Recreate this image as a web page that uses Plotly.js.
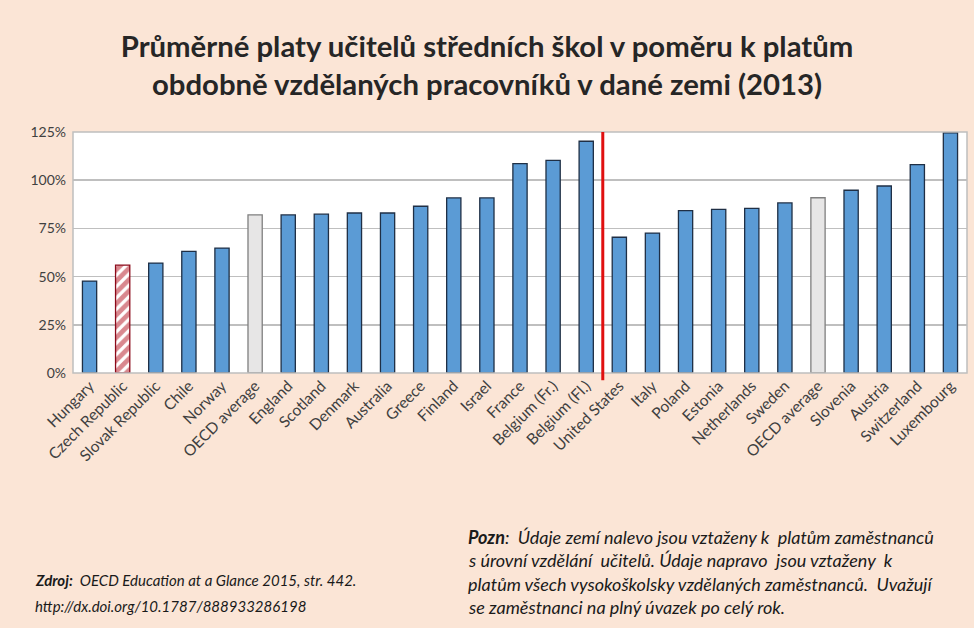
<!DOCTYPE html>
<html><head><meta charset="utf-8">
<script src="https://cdn.plot.ly/plotly-3.0.1.min.js"></script>
<style>html,body{margin:0;padding:0;background:#fbe5d6;}</style>
</head><body>
<div id="chart" style="width:974px;height:628px;"></div>
<script>
const countries = ["Hungary","Czech Republic","Slovak Republic","Chile","Norway","OECD average","England","Scotland","Denmark","Australia","Greece","Finland","Israel","France","Belgium (Fr.)","Belgium (Fl.)","United States","Italy","Poland","Estonia","Netherlands","Sweden","OECD average","Slovenia","Austria","Switzerland","Luxembourg"];
const values = [47.7,55.9,57.0,63.1,64.8,82.0,82.0,82.4,83.0,83.0,86.5,90.8,90.8,108.6,110.3,120.2,70.4,72.6,84.2,84.9,85.4,88.2,90.9,94.8,97.0,108.1,124.6];
const yTicks = [0,25,50,75,100,125];
const yTickLabels = ["0%","25%","50%","75%","100%","125%"];
const splitAfter = "Belgium (Fl.)";
const highlight = "Czech Republic";

const idx = countries.map((c,i)=>i);
const fillColors = countries.map(c => c==="OECD average" ? "#e7e6e6" : "#5b9bd5");
const lineColors = countries.map(c => c==="OECD average" ? "#7f7f7f" : "#1f2f45");
const mainY = countries.map((c,i) => c===highlight ? null : values[i]);
const hlY = countries.map((c,i) => c===highlight ? values[i] : null);
const splitIdx = countries.indexOf(splitAfter) + 0.5;

const traceMain = {
  type: "bar", x: idx, y: mainY,
  marker: {color: fillColors, line: {color: lineColors, width: 1.3}}
};
const traceHl = {
  type: "bar", x: idx, y: hlY,
  marker: {
    color: "#ffffff",
    line: {color: "#8b0a1a", width: 1.3},
    pattern: {shape: "/", fgcolor: "#b3121f", bgcolor: "#ffffff", size: 8, solidity: 0.6, fillmode: "overlay"}
  }
};

const fontMain = "Lato, 'Open Sans', sans-serif";
const noteFont = {family: fontMain, size: 18, color: "#1a1a1a"};
const noteFontL = {family: fontMain, size: 15, color: "#1a1a1a"};

function noteLine(x, y, text, font) {
  return {xref: "paper", yref: "paper", x: x, y: y, xanchor: "left", yanchor: "middle",
          align: "left", showarrow: false, text: text, font: font};
}
// paper coordinates from pixel positions of the plot frame (top 132, bottom 373, left 73, right 967)
function py(pix) { return (373 - pix) / (373 - 132); }
function px(pix) { return (pix - 73) / (967 - 73); }

const layout = {
  width: 974, height: 628,
  paper_bgcolor: "#fbe5d6", plot_bgcolor: "#ffffff",
  margin: {l: 73, r: 7, t: 132, b: 255},
  bargap: 0.57,
  barmode: "overlay",
  showlegend: false,
  title: {
    text: "<b>Průměrné platy učitelů středních škol v poměru k platům<br>obdobně vzdělaných pracovníků v dané zemi (2013)</b>",
    font: {family: fontMain, size: 29.3, color: "#262626"},
    x: 0.5, xanchor: "center", y: 0.91, yanchor: "top"
  },
  xaxis: {
    tickvals: idx, ticktext: countries, tickangle: -45,
    range: [-0.5, countries.length - 0.5],
    tickfont: {family: fontMain, size: 15.5, color: "#404040"},
    showgrid: false, zeroline: false, showline: false, ticks: "", fixedrange: true
  },
  yaxis: {
    range: [0, 125], tickvals: yTicks, ticktext: yTickLabels,
    tickfont: {family: fontMain, size: 14, color: "#404040"},
    ticklabelstandoff: 6,
    showgrid: true, gridcolor: "#bfbfbf", gridwidth: 1.5,
    zeroline: false, showline: false, ticks: "", fixedrange: true
  },
  shapes: [
    {type: "rect", xref: "paper", yref: "paper", x0: 0, x1: 1, y0: 0, y1: 1, line: {color: "#bfbfbf", width: 1.5}, fillcolor: "rgba(0,0,0,0)"},
    {type: "line", xref: "x", yref: "paper", x0: splitIdx, x1: splitIdx, y0: -0.03, y1: 1, line: {color: "#e01010", width: 3}}
  ],
  annotations: [
    noteLine(px(33), py(580), "<b><i>Zdroj:</i></b><i>  OECD Education at a Glance 2015, str. 442.</i>", noteFontL),
    noteLine(px(33), py(606), "<i>http://dx.doi.org/10.1787/888933286198</i>", noteFontL),
    noteLine(px(466), py(537), "<b><i>Pozn</i></b><i>:  Údaje zemí nalevo jsou vztaženy k  platům zaměstnanců</i>", noteFont),
    noteLine(px(466), py(560), "<i>s úrovní vzdělání  učitelů. Údaje napravo  jsou vztaženy  k</i>", noteFont),
    noteLine(px(466), py(584), "<i>platům všech vysokoškolsky vzdělaných zaměstnanců.  Uvažují</i>", noteFont),
    noteLine(px(466), py(607), "<i>se zaměstnanci na plný úvazek po celý rok.</i>", noteFont)
  ]
};

Plotly.newPlot("chart", [traceMain, traceHl], layout, {displayModeBar: false, staticPlot: true});
</script>
</body></html>
